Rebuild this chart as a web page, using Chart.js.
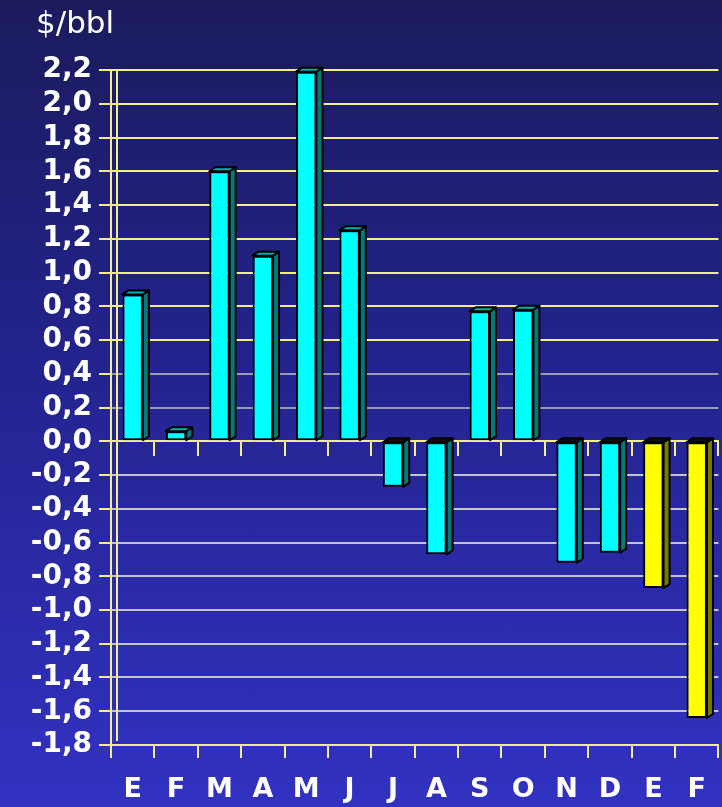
<!DOCTYPE html>
<html>
<head>
<meta charset="utf-8">
<script src="https://cdn.jsdelivr.net/npm/chart.js@4.4.0/dist/chart.umd.min.js"></script>
<style>
html, body { margin: 0; padding: 0; }
body {
    width: 722px;
    height: 807px;
    overflow: hidden;
    background: linear-gradient(to bottom, #1b1b5c 0%, #23238e 45%, #3232c2 100%);
}
</style>
</head>
<body>
<canvas id="chart" width="722" height="807"></canvas>
<script>
// months, Jan of year 1 to Feb of year 2 (Spanish initials)
const months = ['E', 'F', 'M', 'A', 'M', 'J', 'J', 'A', 'S', 'O', 'N', 'D', 'E', 'F']
const values = [0.87, 0.06, 1.6, 1.1, 2.19, 1.25, -0.27, -0.67, 0.77, 0.78, -0.72, -0.66, -0.87, -1.64]
const year = [1, 1, 1, 1, 1, 1, 1, 1, 1, 1, 1, 1, 2, 2]
const yMin = -1.8
const yMax = 2.2
const yStep = 0.2
const unit = '$/bbl'

const FONT = 'DejaVu Sans'
const yellowLine = '#f2ee8a'
const DX = 6
const DY = 4

const faces = {
    1: { front: '#00ffff', side: '#007a7a', top: '#00b0b0' },
    2: { front: '#ffff00', side: '#7a7a00', top: '#b0b000' },
}

function fmt(v) {
    if (Math.abs(v) < 1e-9) v = 0
    return v.toFixed(1).replace('.', ',')
}

// back wall edge of the 3d plot
const backWall = {
    id: 'backWall',
    beforeDatasetsDraw(chart) {
        const ctx = chart.ctx
        const a = chart.chartArea
        ctx.save()
        ctx.strokeStyle = yellowLine
        ctx.lineWidth = 2
        ctx.beginPath()
        ctx.moveTo(a.left + DX, a.top)
        ctx.lineTo(a.left + DX, a.bottom - DY)
        ctx.stroke()
        ctx.restore()
    },
}

// side and top faces for the 3d look
const bar3d = {
    id: 'bar3d',
    afterDatasetsDraw(chart) {
        const ctx = chart.ctx
        chart.getDatasetMeta(0).data.forEach((bar, i) => {
            const p = bar.getProps(['x', 'y', 'base', 'width'], true)
            const l = p.x - p.width / 2
            const r = p.x + p.width / 2
            const t = Math.min(p.y, p.base)
            const b = Math.max(p.y, p.base)
            const c = faces[year[i]]
            ctx.save()
            ctx.lineWidth = 2
            ctx.strokeStyle = '#000'
            ctx.lineJoin = 'round'
            ctx.beginPath()
            ctx.moveTo(r, t)
            ctx.lineTo(r + DX, t - DY)
            ctx.lineTo(r + DX, b - DY)
            ctx.lineTo(r, b)
            ctx.closePath()
            ctx.fillStyle = c.side
            ctx.fill()
            ctx.stroke()
            ctx.beginPath()
            ctx.moveTo(l, t)
            ctx.lineTo(l + DX, t - DY)
            ctx.lineTo(r + DX, t - DY)
            ctx.lineTo(r, t)
            ctx.closePath()
            ctx.fillStyle = values[i] < 0 ? '#101010' : c.top
            ctx.fill()
            ctx.stroke()
            ctx.restore()
        })
    },
}

const unitTitle = {
    id: 'unitTitle',
    afterDraw(chart) {
        const ctx = chart.ctx
        ctx.save()
        ctx.fillStyle = '#ffffff'
        ctx.font = '31px "' + FONT + '"'
        ctx.textBaseline = 'middle'
        ctx.fillText(unit, 36, 25)
        ctx.restore()
    },
}

new Chart('chart', {
    type: 'bar',
    data: {
        labels: months,
        datasets: [
            {
                data: values,
                backgroundColor: year.map((y) => faces[y].front),
                borderColor: '#000',
                borderWidth: 2,
                borderSkipped: false,
                categoryPercentage: 1,
                barPercentage: 0.47,
            },
        ],
    },
    options: {
        responsive: false,
        animation: false,
        layout: {
            padding: { top: 70, right: 1, left: 0, bottom: 0 },
        },
        plugins: {
            legend: { display: false },
            tooltip: { enabled: false },
        },
        scales: {
            x: {
                position: 'bottom',
                afterFit: (scale) => {
                    scale.height = 62
                },
                grid: {
                    offset: true,
                    drawOnChartArea: false,
                    color: yellowLine,
                    tickLength: 13,
                    lineWidth: 2,
                },
                border: { color: yellowLine, width: 2 },
                ticks: {
                    color: '#ffffff',
                    padding: 16,
                    autoSkip: false,
                    maxRotation: 0,
                    font: { family: FONT, size: 27, weight: 'bold' },
                },
            },
            xZero: {
                type: 'category',
                position: { y: 0 },
                grid: {
                    offset: true,
                    drawOnChartArea: false,
                    color: yellowLine,
                    tickLength: 14,
                    lineWidth: 2,
                },
                border: { color: yellowLine, width: 2 },
                ticks: { display: false },
            },
            y: {
                min: yMin,
                max: yMax,
                afterFit: (scale) => {
                    scale.width = 111
                },
                ticks: {
                    stepSize: yStep,
                    autoSkip: false,
                    color: '#ffffff',
                    padding: 7,
                    font: { family: FONT, size: 28, weight: 'bold' },
                    callback: (v) => fmt(v),
                },
                grid: {
                    color: (c) => {
                        const v = c.tick.value
                        if (v >= 0.5 || Math.abs(v) < 1e-9) return yellowLine
                        if (v > 0) return '#9a9ab0'
                        return '#c4c4cc'
                    },
                    tickColor: yellowLine,
                    tickLength: 12,
                    lineWidth: 2,
                },
                border: { color: yellowLine, width: 2 },
            },
        },
    },
    plugins: [backWall, bar3d, unitTitle],
})
</script>
</body>
</html>
